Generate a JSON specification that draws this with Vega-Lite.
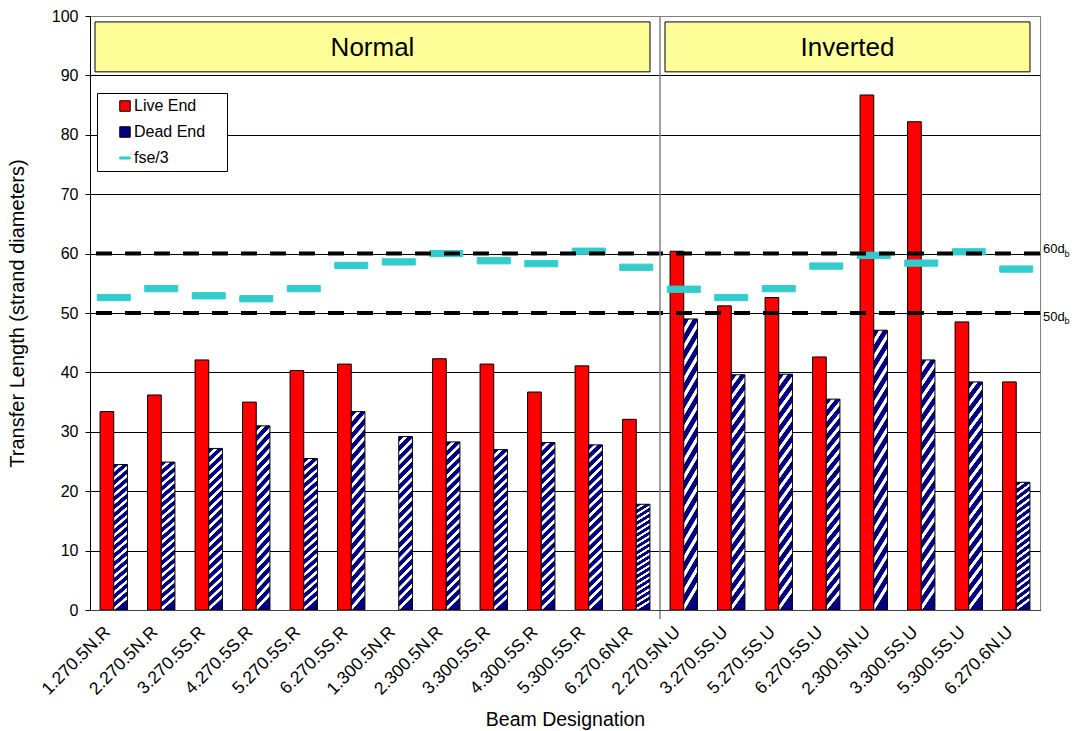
{
  "$schema": "https://vega.github.io/schema/vega-lite/v6.json",
  "width": 950,
  "height": 594,
  "padding": {"left": 7, "top": 8, "right": 0, "bottom": 0},
  "autosize": {"type": "pad"},
  "config": {
    "font": "Liberation Sans",
    "view": {"stroke": "#808080", "strokeWidth": 1},
    "axis": {"labelColor": "black", "titleColor": "black", "titleFontWeight": "normal"}
  },
  "datasets": {
    "beams": [
      {"beam": "1.270.5N.R", "series": "Live End", "value": 33.4},
      {"beam": "1.270.5N.R", "series": "Dead End", "value": 24.5},
      {"beam": "1.270.5N.R", "series": "fse/3", "value": 52.6},
      {"beam": "2.270.5N.R", "series": "Live End", "value": 36.2},
      {"beam": "2.270.5N.R", "series": "Dead End", "value": 24.9},
      {"beam": "2.270.5N.R", "series": "fse/3", "value": 54.1},
      {"beam": "3.270.5S.R", "series": "Live End", "value": 42.1},
      {"beam": "3.270.5S.R", "series": "Dead End", "value": 27.2},
      {"beam": "3.270.5S.R", "series": "fse/3", "value": 52.9},
      {"beam": "4.270.5S.R", "series": "Live End", "value": 35.0},
      {"beam": "4.270.5S.R", "series": "Dead End", "value": 31.0},
      {"beam": "4.270.5S.R", "series": "fse/3", "value": 52.4},
      {"beam": "5.270.5S.R", "series": "Live End", "value": 40.3},
      {"beam": "5.270.5S.R", "series": "Dead End", "value": 25.5},
      {"beam": "5.270.5S.R", "series": "fse/3", "value": 54.1},
      {"beam": "6.270.5S.R", "series": "Live End", "value": 41.4},
      {"beam": "6.270.5S.R", "series": "Dead End", "value": 33.4},
      {"beam": "6.270.5S.R", "series": "fse/3", "value": 58.0},
      {"beam": "1.300.5N.R", "series": "Dead End", "value": 29.2},
      {"beam": "1.300.5N.R", "series": "fse/3", "value": 58.6},
      {"beam": "2.300.5N.R", "series": "Live End", "value": 42.3},
      {"beam": "2.300.5N.R", "series": "Dead End", "value": 28.3},
      {"beam": "2.300.5N.R", "series": "fse/3", "value": 60.0},
      {"beam": "3.300.5S.R", "series": "Live End", "value": 41.4},
      {"beam": "3.300.5S.R", "series": "Dead End", "value": 27.0},
      {"beam": "3.300.5S.R", "series": "fse/3", "value": 58.8},
      {"beam": "4.300.5S.R", "series": "Live End", "value": 36.7},
      {"beam": "4.300.5S.R", "series": "Dead End", "value": 28.2},
      {"beam": "4.300.5S.R", "series": "fse/3", "value": 58.3},
      {"beam": "5.300.5S.R", "series": "Live End", "value": 41.1},
      {"beam": "5.300.5S.R", "series": "Dead End", "value": 27.8},
      {"beam": "5.300.5S.R", "series": "fse/3", "value": 60.4},
      {"beam": "6.270.6N.R", "series": "Live End", "value": 32.1},
      {"beam": "6.270.6N.R", "series": "Dead End", "value": 17.8},
      {"beam": "6.270.6N.R", "series": "fse/3", "value": 57.7},
      {"beam": "2.270.5N.U", "series": "Live End", "value": 60.4},
      {"beam": "2.270.5N.U", "series": "Dead End", "value": 49.0},
      {"beam": "2.270.5N.U", "series": "fse/3", "value": 54.0},
      {"beam": "3.270.5S.U", "series": "Live End", "value": 51.2},
      {"beam": "3.270.5S.U", "series": "Dead End", "value": 39.6},
      {"beam": "3.270.5S.U", "series": "fse/3", "value": 52.6},
      {"beam": "5.270.5S.U", "series": "Live End", "value": 52.6},
      {"beam": "5.270.5S.U", "series": "Dead End", "value": 39.7},
      {"beam": "5.270.5S.U", "series": "fse/3", "value": 54.1},
      {"beam": "6.270.5S.U", "series": "Live End", "value": 42.6},
      {"beam": "6.270.5S.U", "series": "Dead End", "value": 35.5},
      {"beam": "6.270.5S.U", "series": "fse/3", "value": 57.9},
      {"beam": "2.300.5N.U", "series": "Live End", "value": 86.7},
      {"beam": "2.300.5N.U", "series": "Dead End", "value": 47.1},
      {"beam": "2.300.5N.U", "series": "fse/3", "value": 59.7},
      {"beam": "3.300.5S.U", "series": "Live End", "value": 82.2},
      {"beam": "3.300.5S.U", "series": "Dead End", "value": 42.1},
      {"beam": "3.300.5S.U", "series": "fse/3", "value": 58.4},
      {"beam": "5.300.5S.U", "series": "Live End", "value": 48.5},
      {"beam": "5.300.5S.U", "series": "Dead End", "value": 38.4},
      {"beam": "5.300.5S.U", "series": "fse/3", "value": 60.3},
      {"beam": "6.270.6N.U", "series": "Live End", "value": 38.4},
      {"beam": "6.270.6N.U", "series": "Dead End", "value": 21.5},
      {"beam": "6.270.6N.U", "series": "fse/3", "value": 57.4}
    ],
    "panels": [
      {"panel": "Normal", "from": "1.270.5N.R", "to": "6.270.6N.R", "mid": "6.270.5S.R"},
      {"panel": "Inverted", "from": "2.270.5N.U", "to": "6.270.6N.U", "mid": "6.270.5S.U"}
    ],
    "refs": [
      {"level": 60},
      {"level": 50}
    ]
  },
  "data": {"name": "beams"},
  "layer": [
    {
      "data": {"name": "panels"},
      "mark": {"type": "rect", "fill": "#FFFF99", "stroke": "black", "strokeWidth": 1, "opacity": 1, "xOffset": 5, "x2Offset": -10},
      "encoding": {
        "x": {"field": "from", "type": "nominal", "bandPosition": -0.368, "title": "Beam Designation",
          "scale": {"domain": ["1.270.5N.R","2.270.5N.R","3.270.5S.R","4.270.5S.R","5.270.5S.R","6.270.5S.R","1.300.5N.R","2.300.5N.R","3.300.5S.R","4.300.5S.R","5.300.5S.R","6.270.6N.R","2.270.5N.U","3.270.5S.U","5.270.5S.U","6.270.5S.U","2.300.5N.U","3.300.5S.U","5.300.5S.U","6.270.6N.U"], "paddingInner": 0.424, "paddingOuter": 0.212}},
        "x2": {"field": "to", "bandPosition": 1.368},
        "y": {"datum": 99, "type": "quantitative", "title": "Transfer Length (strand diameters)", "scale": {"domain": [0, 100], "nice": false}},
        "y2": {"datum": 90.6}
      }
    },
    {
      "transform": [{"filter": "datum.series !== 'fse/3'"}],
      "mark": {"type": "bar", "strokeWidth": 1, "opacity": 1},
      "encoding": {
        "x": {"field": "beam", "type": "nominal", "title": "Beam Designation",
          "scale": {"domain": ["1.270.5N.R","2.270.5N.R","3.270.5S.R","4.270.5S.R","5.270.5S.R","6.270.5S.R","1.300.5N.R","2.300.5N.R","3.300.5S.R","4.300.5S.R","5.300.5S.R","6.270.6N.R","2.270.5N.U","3.270.5S.U","5.270.5S.U","6.270.5S.U","2.300.5N.U","3.300.5S.U","5.300.5S.U","6.270.6N.U"], "paddingInner": 0.424, "paddingOuter": 0.212},
          "axis": {"labelAngle": -45, "labelAlign": "right", "labelBaseline": "middle", "labelFontSize": 17.5, "labelPadding": 19, "labelOffset": -6, "ticks": false, "domainColor": "#404040", "titleFontSize": 19.5, "titlePadding": 13, "grid": false}},
        "xOffset": {"field": "series", "type": "nominal", "scale": {"domain": ["Live End", "Dead End"], "paddingInner": 0, "paddingOuter": 0}},
        "y": {"field": "value", "type": "quantitative", "title": "Transfer Length (strand diameters)",
          "scale": {"domain": [0, 100], "nice": false},
          "axis": {"values": [0,10,20,30,40,50,60,70,80,90,100], "domainColor": "black", "tickColor": "black", "tickSize": 5, "labelFontSize": 16, "labelPadding": 7, "grid": true, "gridColor": {"condition": {"test": "datum.value === 100", "value": "#808080"}, "value": "black"}, "gridOpacity": 1, "gridWidth": 1, "titleFontSize": 20, "titlePadding": 24}},
        "stroke": {"field": "series", "type": "nominal",
          "scale": {"domain": ["Live End", "Dead End", "fse/3"], "range": ["black", "black", "#33CCCC"]}},
        "fill": {"field": "series", "type": "nominal",
          "scale": {"domain": ["Live End", "Dead End", "fse/3"], "range": ["#FF0000", "#000080", "#33CCCC"]},
          "condition": {"test": "datum.series === 'Dead End'", "value": {"gradient": "linear", "x1": 0, "y1": 0, "x2": 0.08, "y2": 1, "stops": [
            {"offset": 0, "color": "#000080"}, {"offset": 0.029, "color": "#000080"}, {"offset": 0.033, "color": "#ffffff"}, {"offset": 0.052, "color": "#ffffff"},
            {"offset": 0.0556, "color": "#000080"}, {"offset": 0.0846, "color": "#000080"}, {"offset": 0.0886, "color": "#ffffff"}, {"offset": 0.1076, "color": "#ffffff"},
            {"offset": 0.1111, "color": "#000080"}, {"offset": 0.1401, "color": "#000080"}, {"offset": 0.1441, "color": "#ffffff"}, {"offset": 0.1631, "color": "#ffffff"},
            {"offset": 0.1667, "color": "#000080"}, {"offset": 0.1957, "color": "#000080"}, {"offset": 0.1997, "color": "#ffffff"}, {"offset": 0.2187, "color": "#ffffff"},
            {"offset": 0.2222, "color": "#000080"}, {"offset": 0.2512, "color": "#000080"}, {"offset": 0.2552, "color": "#ffffff"}, {"offset": 0.2742, "color": "#ffffff"},
            {"offset": 0.2778, "color": "#000080"}, {"offset": 0.3068, "color": "#000080"}, {"offset": 0.3108, "color": "#ffffff"}, {"offset": 0.3298, "color": "#ffffff"},
            {"offset": 0.3333, "color": "#000080"}, {"offset": 0.3623, "color": "#000080"}, {"offset": 0.3663, "color": "#ffffff"}, {"offset": 0.3853, "color": "#ffffff"},
            {"offset": 0.3889, "color": "#000080"}, {"offset": 0.4179, "color": "#000080"}, {"offset": 0.4219, "color": "#ffffff"}, {"offset": 0.4409, "color": "#ffffff"},
            {"offset": 0.4444, "color": "#000080"}, {"offset": 0.4734, "color": "#000080"}, {"offset": 0.4774, "color": "#ffffff"}, {"offset": 0.4964, "color": "#ffffff"},
            {"offset": 0.5, "color": "#000080"}, {"offset": 0.529, "color": "#000080"}, {"offset": 0.533, "color": "#ffffff"}, {"offset": 0.552, "color": "#ffffff"},
            {"offset": 0.5556, "color": "#000080"}, {"offset": 0.5846, "color": "#000080"}, {"offset": 0.5886, "color": "#ffffff"}, {"offset": 0.6076, "color": "#ffffff"},
            {"offset": 0.6111, "color": "#000080"}, {"offset": 0.6401, "color": "#000080"}, {"offset": 0.6441, "color": "#ffffff"}, {"offset": 0.6631, "color": "#ffffff"},
            {"offset": 0.6667, "color": "#000080"}, {"offset": 0.6957, "color": "#000080"}, {"offset": 0.6997, "color": "#ffffff"}, {"offset": 0.7187, "color": "#ffffff"},
            {"offset": 0.7222, "color": "#000080"}, {"offset": 0.7512, "color": "#000080"}, {"offset": 0.7552, "color": "#ffffff"}, {"offset": 0.7742, "color": "#ffffff"},
            {"offset": 0.7778, "color": "#000080"}, {"offset": 0.8068, "color": "#000080"}, {"offset": 0.8108, "color": "#ffffff"}, {"offset": 0.8298, "color": "#ffffff"},
            {"offset": 0.8333, "color": "#000080"}, {"offset": 0.8623, "color": "#000080"}, {"offset": 0.8663, "color": "#ffffff"}, {"offset": 0.8853, "color": "#ffffff"},
            {"offset": 0.8889, "color": "#000080"}, {"offset": 0.9179, "color": "#000080"}, {"offset": 0.9219, "color": "#ffffff"}, {"offset": 0.9409, "color": "#ffffff"},
            {"offset": 0.9444, "color": "#000080"}, {"offset": 0.9734, "color": "#000080"}, {"offset": 0.9774, "color": "#ffffff"}, {"offset": 0.9964, "color": "#ffffff"},
            {"offset": 1, "color": "#000080"}
          ]}},
          "legend": {
            "title": " ", "titleOrient": "right", "titleFontSize": 1, "titlePadding": 17,
            "orient": "none", "legendX": 7, "legendY": 77,
            "strokeColor": "black", "fillColor": "white", "padding": 5,
            "symbolSize": 110, "symbolOffset": 15, "labelOffset": 1, "rowPadding": 10,
            "labelFontSize": 16, "labelColor": "black", "symbolStrokeWidth": 1, "symbolOpacity": 1
          }
        }
      }
    },
    {
      "transform": [{"filter": "datum.series === 'fse/3'"}],
      "mark": {"type": "point", "filled": true, "size": 1089, "strokeWidth": 1, "opacity": 1},
      "encoding": {
        "x": {"field": "beam", "type": "nominal", "title": "Beam Designation"},
        "y": {"field": "value", "type": "quantitative", "title": "Transfer Length (strand diameters)"},
        "fill": {"field": "series", "type": "nominal"},
        "stroke": {"field": "series", "type": "nominal"},
        "shape": {"field": "series", "type": "nominal",
          "scale": {"domain": ["Live End", "Dead End", "fse/3"], "range": ["square", "square", "M-1,-0.19H1V0.19H-1Z"]}}
      }
    },
    {
      "data": {"name": "refs"},
      "mark": {"type": "rule", "color": "black", "strokeWidth": 4, "strokeDash": [16, 13], "opacity": 1},
      "encoding": {
        "y": {"field": "level", "type": "quantitative", "title": "Transfer Length (strand diameters)"}
      }
    },
    {
      "data": {"values": [{}]},
      "mark": {"type": "rule", "color": "#808080", "strokeWidth": 1.5, "y2Offset": 9, "opacity": 1},
      "encoding": {
        "x": {"datum": "2.270.5N.U", "type": "nominal", "bandPosition": -0.368, "title": "Beam Designation"},
        "y": {"datum": 100, "type": "quantitative", "title": "Transfer Length (strand diameters)"},
        "y2": {"datum": 0}
      }
    },
    {
      "data": {"name": "panels"},
      "mark": {"type": "text", "fontSize": 26, "align": "center", "baseline": "alphabetic", "color": "black", "dx": -2.5},
      "encoding": {
        "x": {"field": "mid", "type": "nominal", "bandPosition": 1.368, "title": "Beam Designation"},
        "y": {"datum": 93.3, "type": "quantitative", "title": "Transfer Length (strand diameters)"},
        "text": {"field": "panel"}
      }
    },
    {
      "data": {"values": [{}]},
      "mark": {"type": "text", "fontSize": 13, "align": "left", "baseline": "alphabetic", "color": "black", "dx": 3, "dy": -1, "text": "60d"},
      "encoding": {
        "x": {"datum": "6.270.6N.U", "type": "nominal", "bandPosition": 1.368, "title": "Beam Designation"},
        "y": {"datum": 60, "type": "quantitative", "title": "Transfer Length (strand diameters)"}
      }
    },
    {
      "data": {"values": [{}]},
      "mark": {"type": "text", "fontSize": 9, "align": "left", "baseline": "alphabetic", "color": "black", "dx": 24.5, "dy": 3, "text": "b"},
      "encoding": {
        "x": {"datum": "6.270.6N.U", "type": "nominal", "bandPosition": 1.368, "title": "Beam Designation"},
        "y": {"datum": 60, "type": "quantitative", "title": "Transfer Length (strand diameters)"}
      }
    },
    {
      "data": {"values": [{}]},
      "mark": {"type": "text", "fontSize": 13, "align": "left", "baseline": "alphabetic", "color": "black", "dx": 3, "dy": 7.5, "text": "50d"},
      "encoding": {
        "x": {"datum": "6.270.6N.U", "type": "nominal", "bandPosition": 1.368, "title": "Beam Designation"},
        "y": {"datum": 50, "type": "quantitative", "title": "Transfer Length (strand diameters)"}
      }
    },
    {
      "data": {"values": [{}]},
      "mark": {"type": "text", "fontSize": 9, "align": "left", "baseline": "alphabetic", "color": "black", "dx": 24.5, "dy": 10.5, "text": "b"},
      "encoding": {
        "x": {"datum": "6.270.6N.U", "type": "nominal", "bandPosition": 1.368, "title": "Beam Designation"},
        "y": {"datum": 50, "type": "quantitative", "title": "Transfer Length (strand diameters)"}
      }
    }
  ]
}
